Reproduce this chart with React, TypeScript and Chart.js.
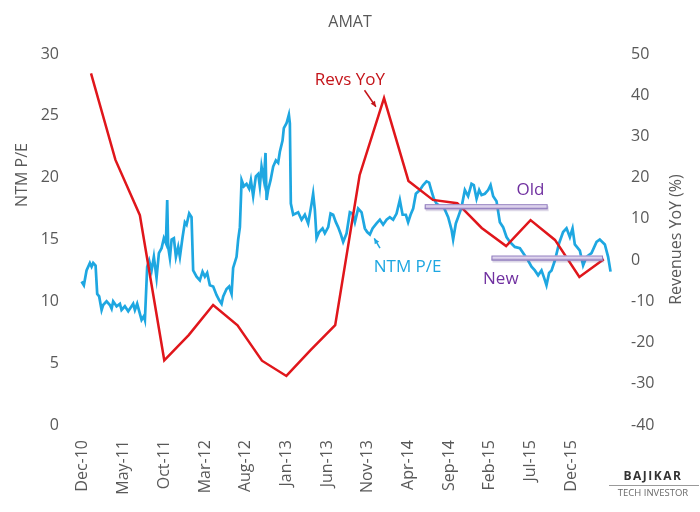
import React, { useEffect, useRef } from "react";
import { Chart, registerables } from "chart.js";

Chart.register(...registerables);

// x axis: months since Dec-10
const tickMonths = [0, 5, 10, 15, 20, 25, 30, 35, 40, 45, 50, 55, 60];
const tickLabels = [
  "Dec-10", "May-11", "Oct-11", "Mar-12", "Aug-12", "Jan-13", "Jun-13",
  "Nov-13", "Apr-14", "Sep-14", "Feb-15", "Jul-15", "Dec-15",
];

// NTM P/E (left axis)
const peMonths = [
  -0.16, 0.12, 0.45, 0.86, 1.07, 1.27, 1.56, 1.76, 2.0, 2.3, 2.49, 2.91, 3.32, 3.53, 3.72, 4.14,
  4.55, 4.75, 5.16, 5.57, 5.98, 6.18, 6.39, 6.67, 7.0, 7.21, 7.49, 7.62, 7.9, 8.14, 8.44, 8.72,
  9.05, 9.34, 9.67, 9.95, 10.2, 10.36, 10.48, 10.69, 10.9, 11.18, 11.43, 11.71, 11.92, 12.25,
  12.53, 12.74, 13.06, 13.35, 13.55, 13.97, 14.37, 14.7, 14.99, 15.27, 15.6, 16.01, 16.43,
  16.74, 17.04, 17.24, 17.65, 17.97, 18.27, 18.46, 18.88, 19.08, 19.29, 19.5, 19.78, 20.11,
  20.43, 20.64, 20.92, 21.25, 21.54, 21.74, 21.95, 22.24, 22.44, 22.57, 22.76, 23.06, 23.38,
  23.71, 23.99, 24.2, 24.53, 24.69, 25.02, 25.31, 25.43, 25.55, 25.84, 26.45, 26.87, 27.27,
  27.68, 28.1, 28.29, 28.5, 28.71, 29.03, 29.45, 29.73, 30.14, 30.43, 30.75, 31.08, 31.36,
  31.7, 31.98, 32.4, 32.8, 33.13, 33.42, 33.82, 34.24, 34.64, 34.93, 35.26, 35.59, 36.08,
  36.49, 36.89, 37.31, 37.71, 38.12, 38.54, 38.94, 39.28, 39.68, 39.96, 40.26, 40.58, 40.91,
  41.4, 41.81, 42.22, 42.54, 42.84, 43.12, 43.45, 43.86, 44.35, 44.88, 45.29, 45.49, 45.82,
  46.1, 46.52, 46.93, 47.33, 47.75, 48.03, 48.37, 48.69, 48.98, 49.39, 49.79, 50.09, 50.41,
  50.82, 51.23, 51.63, 52.05, 52.46, 53.07, 53.69, 54.09, 54.7, 55.12, 55.53, 55.93, 56.35,
  56.67, 56.96, 57.28, 57.58, 57.99, 58.51, 59.0, 59.42, 59.83, 60.16, 60.44, 61.06, 61.46,
  61.88, 62.49, 63.11, 63.51, 64.13, 64.53, 64.83,
];
const peValues = [
  11.6, 11.3, 12.5, 13.1, 12.8, 13.1, 12.9, 10.6, 10.4, 9.3, 9.7, 10.0, 9.7, 9.4, 10.0, 9.6,
  9.8, 9.3, 9.6, 9.2, 9.6, 9.8, 9.3, 9.8, 9.0, 8.5, 8.8, 8.5, 12.8, 13.3, 12.5, 13.6,
  11.9, 13.9, 14.3, 15.1, 14.7, 18.2, 14.4, 13.5, 15.0, 15.1, 13.6, 14.4, 13.6, 15.2,
  16.4, 16.2, 17.1, 16.8, 12.5, 12.0, 11.7, 12.4, 12.0, 12.3, 11.3, 11.2, 10.5,
  10.1, 9.8, 10.4, 11.0, 11.2, 10.6, 12.7, 13.6, 15.0, 16.0, 19.8, 19.3, 19.5,
  19.1, 19.8, 18.5, 20.1, 20.3, 19.3, 20.9, 19.8, 22.0, 18.2, 19.0, 19.8, 20.9,
  21.4, 21.2, 22.1, 23.0, 24.0, 24.4, 25.1, 24.4, 17.9, 17.0, 17.2, 16.6, 17.0,
  16.3, 17.9, 18.7, 17.4, 15.1, 15.6, 15.9, 15.5, 16.0, 17.1, 17.0, 16.4, 16.0,
  15.4, 14.8, 15.5, 17.2, 17.1, 16.4, 17.5, 17.2, 15.9, 15.6, 15.4, 15.9, 16.3,
  16.6, 16.2, 16.6, 16.8, 16.6, 17.1, 18.2, 17.0, 17.0, 16.4, 17.0, 17.5, 18.7,
  19.0, 19.4, 19.7, 19.6, 18.9, 18.3, 17.9, 17.7, 17.6, 16.8, 15.8, 15.0, 16.3,
  16.8, 17.6, 19.0, 18.5, 19.5, 19.4, 18.3, 19.0, 18.6, 18.7, 19.0, 19.4, 18.5,
  18.1, 16.4, 16.0, 15.2, 14.8, 14.4, 14.3, 13.9, 13.3, 12.8, 12.5, 12.1, 12.5,
  11.9, 11.3, 12.3, 12.5, 13.3, 14.7, 15.6, 15.9, 15.2, 15.9, 14.6, 14.1, 12.9,
  13.6, 13.9, 14.8, 15.0, 14.6, 13.6, 12.4,
];

// Revenues YoY % (right axis), quarterly
const revMonths = [1, 4, 7, 10, 13, 16, 19, 22, 25, 28, 31, 34, 37, 40, 43, 46, 49, 52, 55, 58, 61, 64];
const revValues = [
  45.3, 24.3, 10.9, -24.3, -18.2, -10.9, -15.8, -24.4, -28.1, -21.8, -15.8, 20.6,
  39.3, 19.2, 14.6, 13.8, 7.8, 3.4, 9.7, 4.9, -4.1, 0.2,
];

// P/E reference levels ("Old" / "New")
const bandLabels = ["Old", "New"];
const bandLevels = [17.65, 13.5];
const bandFrom = [42.0, 50.2];
const bandTo = [57.1, 63.9];

const FONT = "'Open Sans', sans-serif";
const GREY = "#595959";
const BLUE = "#1ea7e1";
const RED = "#e0161b";
const PURPLE = "#7030a0";

const notes = [
  { text: "Revs YoY", x: 32.8, y: 43.7, axis: "y2", color: "#c4141a" },
  { text: "NTM P/E", x: 39.9, y: 12.8, axis: "y", color: BLUE },
  { text: bandLabels[0], x: 55.0, y: 19.0, axis: "y", color: PURPLE },
  { text: bandLabels[1], x: 51.35, y: 11.8, axis: "y", color: PURPLE },
];
const arrows = [
  { x0: 34.6, y0: 41.2, x1: 36.0, y1: 37.2, axis: "y2", color: "#c4141a" },
  { x0: 36.5, y0: 14.3, x1: 35.8, y1: 15.1, axis: "y", color: BLUE },
];

const overlay = {
  id: "overlay",
  afterDatasetsDraw(chart: any) {
    const { ctx, scales, chartArea } = chart;
    const x = scales.x;
    ctx.save();
    // bands
    for (let i = 0; i < bandLevels.length; i++) {
      const a = x.getPixelForValue(bandFrom[i]);
      const b = x.getPixelForValue(bandTo[i]);
      const yy = scales.y.getPixelForValue(bandLevels[i]);
      const h = 5;
      ctx.fillStyle = "rgba(120,100,160,0.25)";
      ctx.fillRect(a + 1, yy - h / 2 + 2, b - a, h);
      const g = ctx.createLinearGradient(0, yy - h / 2, 0, yy + h / 2);
      g.addColorStop(0, "#f3effa");
      g.addColorStop(0.5, "#d9cdea");
      g.addColorStop(1, "#a796c8");
      ctx.fillStyle = g;
      ctx.fillRect(a, yy - h / 2, b - a, h);
      ctx.strokeStyle = "#8f7bbd";
      ctx.lineWidth = 1;
      ctx.strokeRect(a + 0.5, yy - h / 2 + 0.5, b - a - 1, h - 1);
    }
    // arrows
    for (const ar of arrows) {
      const sx = x.getPixelForValue(ar.x0);
      const sy = scales[ar.axis].getPixelForValue(ar.y0);
      const ex = x.getPixelForValue(ar.x1);
      const ey = scales[ar.axis].getPixelForValue(ar.y1);
      ctx.strokeStyle = ar.color;
      ctx.fillStyle = ar.color;
      ctx.lineWidth = 1.5;
      ctx.beginPath();
      ctx.moveTo(sx, sy);
      ctx.lineTo(ex, ey);
      ctx.stroke();
      const ang = Math.atan2(ey - sy, ex - sx);
      const L = 6;
      ctx.beginPath();
      ctx.moveTo(ex, ey);
      ctx.lineTo(ex - L * Math.cos(ang - 0.45), ey - L * Math.sin(ang - 0.45));
      ctx.lineTo(ex - L * Math.cos(ang + 0.45), ey - L * Math.sin(ang + 0.45));
      ctx.closePath();
      ctx.fill();
    }
    // notes
    ctx.font = `17px ${FONT}`;
    ctx.textAlign = "center";
    ctx.textBaseline = "middle";
    for (const n of notes) {
      ctx.fillStyle = n.color;
      ctx.fillText(n.text, x.getPixelForValue(n.x), scales[n.axis].getPixelForValue(n.y));
    }
    // titles
    ctx.fillStyle = GREY;
    ctx.font = `16px ${FONT}`;
    ctx.fillText("AMAT", 350, 22);
    ctx.save();
    ctx.translate(22, 175);
    ctx.rotate(-Math.PI / 2);
    ctx.fillText("NTM P/E", 0, 0);
    ctx.restore();
    ctx.save();
    ctx.translate(676, (chartArea.top + chartArea.bottom) / 2);
    ctx.rotate(-Math.PI / 2);
    ctx.fillText("Revenues YoY (%)", 0, 0);
    ctx.restore();
    ctx.restore();
  },
};

export default function App() {
  const ref = useRef<HTMLCanvasElement>(null);
  useEffect(() => {
    if (!ref.current) return;
    const tickFont = { family: FONT, size: 16 };
    const chart = new Chart(ref.current, {
      type: "line",
      data: {
        datasets: [
          {
            label: "Revs YoY",
            data: revMonths.map((m, i) => ({ x: m, y: revValues[i] })),
            yAxisID: "y2",
            borderColor: RED,
            borderWidth: 2.5,
            pointRadius: 0,
            tension: 0,
          },
          {
            label: "NTM P/E",
            data: peMonths.map((m, i) => ({ x: m, y: peValues[i] })),
            yAxisID: "y",
            borderColor: BLUE,
            borderWidth: 2.7,
            pointRadius: 0,
            tension: 0,
          },
        ],
      },
      options: {
        animation: false,
        responsive: false,
        layout: { padding: { top: 54, left: 0, right: 0, bottom: 0 } },
        plugins: {
          legend: { display: false },
          tooltip: { enabled: false },
          title: { display: false },
        },
        scales: {
          x: {
            type: "linear",
            min: -0.6,
            max: 65.5,
            grid: { display: false, drawTicks: false },
            border: { display: false },
            afterBuildTicks: (s: any) => {
              s.ticks = tickMonths.map((v) => ({ value: v }));
            },
            afterFit: (s: any) => {
              s.height = 87;
            },
            ticks: {
              autoSkip: false,
              maxRotation: 90,
              minRotation: 90,
              padding: 15,
              color: GREY,
              font: tickFont,
              callback: (_v: any, i: number) => tickLabels[i],
            },
          },
          y: {
            position: "left",
            min: 0,
            max: 30,
            grid: { display: false, drawTicks: false },
            border: { display: false },
            afterFit: (s: any) => {
              s.width = 78;
            },
            ticks: { stepSize: 5, padding: 19, color: GREY, font: tickFont },
          },
          y2: {
            position: "right",
            min: -40,
            max: 50,
            grid: { display: false, drawTicks: false },
            border: { display: false },
            afterFit: (s: any) => {
              s.width = 84;
            },
            ticks: { stepSize: 10, padding: 15, color: GREY, font: tickFont },
          },
        },
      },
      plugins: [overlay],
    });
    return () => chart.destroy();
  }, []);

  return (
    <div style={{ position: "fixed", left: 0, top: 0, width: 700, height: 512, background: "#fff" }}>
      <canvas ref={ref} width={700} height={512} style={{ display: "block" }} />
      <div
        style={{
          position: "absolute",
          left: 606,
          top: 468,
          width: 94,
          textAlign: "center",
          fontFamily: FONT,
          fontWeight: 700,
          fontSize: 12,
          letterSpacing: 1.5,
          color: "#333",
          lineHeight: "15px",
        }}
      >
        BAJIKAR
      </div>
      <div style={{ position: "absolute", left: 609, top: 485, width: 90, height: 1, background: "#9a9a9a" }} />
      <div
        style={{
          position: "absolute",
          left: 606,
          top: 487,
          width: 94,
          textAlign: "center",
          fontFamily: FONT,
          fontSize: 9.5,
          color: "#6a6a6a",
          lineHeight: "12px",
        }}
      >
        TECH INVESTOR
      </div>
    </div>
  );
}
